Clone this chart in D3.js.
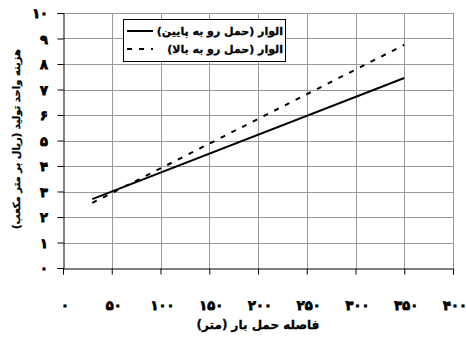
<!DOCTYPE html>
<html><head><meta charset="utf-8">
<script src="https://cdn.jsdelivr.net/npm/d3@7"></script>
<style>body{margin:0;background:#fff}svg{display:block}text{font-family:"DejaVu Sans",Arial,sans-serif;font-weight:bold}</style>
</head><body><svg id="c" width="466" height="343"></svg>
<script>
const xTicks = [0,50,100,150,200,250,300,350,400];
const yTicks = [0,1,2,3,4,5,6,7,8,9,10];
const seriesNames = ["الوار (حمل رو به پایین)", "الوار (حمل رو به بالا)"];
const xValues = [30, 350];
const downValues = [2.7, 7.45];
const upValues = [2.55, 8.75];
const xTitle = "فاصله حمل بار (متر)";
const yTitle = "هزینه واحد تولید (ریال بر متر مکعب)";

const fa = n => String(n).replace(/\d/g, d => "۰۱۲۳۴۵۶۷۸۹"[d]);
const svg = d3.select("#c");
const L = 63, R = 453, T = 13, B = 268;
const x = d3.scaleLinear().domain([0,400]).range([L,R]);
const y = d3.scaleLinear().domain([0,10]).range([B,T]);

// grid
svg.append("g").selectAll("line").data(yTicks.filter(d=>d>0)).join("line")
  .attr("x1",L).attr("x2",R).attr("y1",d=>Math.round(y(d))+0.5).attr("y2",d=>Math.round(y(d))+0.5)
  .attr("stroke","#999").attr("stroke-width",1);
svg.append("g").selectAll("line").data(xTicks.filter(d=>d>0)).join("line")
  .attr("x1",d=>Math.round(x(d))+0.5).attr("x2",d=>Math.round(x(d))+0.5).attr("y1",T).attr("y2",B)
  .attr("stroke","#999").attr("stroke-width",1);

// axes
const xa = svg.append("g").attr("transform",`translate(0,${B+0.5})`)
  .call(d3.axisBottom(x).tickValues(xTicks).tickSize(6).tickFormat(""));
xa.select(".domain").attr("stroke","#000");
xa.selectAll(".tick line").attr("stroke","#000");
const ya = svg.append("g").attr("transform",`translate(${L+0.5},0)`)
  .call(d3.axisLeft(y).tickValues(yTicks).tickSize(6).tickFormat(""));
ya.select(".domain").attr("stroke","#000");
ya.selectAll(".tick line").attr("stroke","#000");

// tick labels
svg.append("g").selectAll("text").data(xTicks).join("text")
  .attr("x",d=>x(d)+2).attr("y",310).attr("text-anchor","middle")
  .attr("font-size",13).attr("stroke","#000").attr("stroke-width",0.8).text(d=>fa(d));
svg.append("g").selectAll("text").data(yTicks).join("text")
  .attr("x",48).attr("y",d=>y(d)+5).attr("text-anchor","end")
  .attr("font-size",13).attr("stroke","#000").attr("stroke-width",0.8).text(d=>fa(d));

// titles
svg.append("text").attr("x",258).attr("y",329).attr("text-anchor","middle")
  .attr("font-size",12).attr("stroke","#000").attr("stroke-width",0.3)
  .attr("direction","rtl").attr("unicode-bidi","embed").text(xTitle);
svg.append("text").attr("transform","translate(20,139) rotate(-90)")
  .attr("text-anchor","middle").attr("font-size",10).attr("stroke","#000").attr("stroke-width",0.3)
  .attr("direction","rtl").attr("unicode-bidi","embed").text(yTitle);

// lines
const line = d3.line().x(d=>x(d[0])).y(d=>y(d[1]));
svg.append("path").datum(xValues.map((v,i)=>[v,downValues[i]])).attr("d",line)
  .attr("fill","none").attr("stroke","#000").attr("stroke-width",2);
svg.append("path").datum(xValues.map((v,i)=>[v,upValues[i]])).attr("d",line)
  .attr("fill","none").attr("stroke","#000").attr("stroke-width",2).attr("stroke-dasharray","5,7");

// legend
const lg = svg.append("g");
lg.append("rect").attr("x",123.5).attr("y",19.5).attr("width",162).attr("height",42)
  .attr("fill","#fff").attr("stroke","#000").attr("stroke-width",1);
const dashes = [null,"5,7"];
seriesNames.forEach((s,i)=>{
  const yy = 31 + i*18;
  lg.append("line").attr("x1",127).attr("x2",153).attr("y1",yy).attr("y2",yy)
    .attr("stroke","#000").attr("stroke-width",2).attr("stroke-dasharray",dashes[i]);
  lg.append("text").attr("x",283).attr("y",yy+4).attr("text-anchor","start")
    .attr("direction","rtl").attr("font-size",11).attr("stroke","#000").attr("stroke-width",0.3).text(s);
});
</script></body></html>
